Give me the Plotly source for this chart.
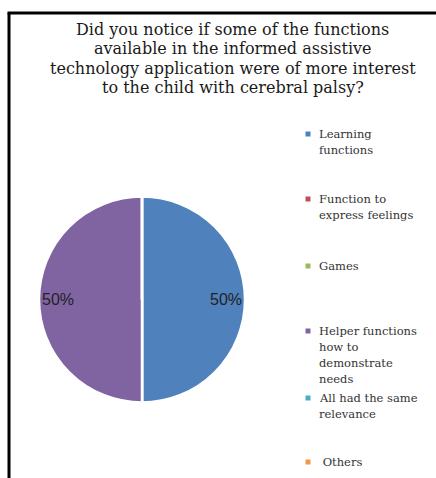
import math
import plotly.graph_objects as go

# ---- data ----
categories = [
    "Learning<br>functions",
    "Function to<br>express feelings",
    "Games",
    "Helper functions<br>how to<br>demonstrate<br>needs",
    "All had the same<br>relevance",
    " Others",
]
values = [50, 0, 0, 50, 0, 0]
colors = ["#4F81BD", "#C0504D", "#9BBB59", "#8064A2", "#4BACC6", "#F79646"]
title_lines = [
    "Did you notice if some of the functions",
    "available in the informed assistive",
    "technology application were of more interest",
    "to the child with cerebral palsy?",
]

# ---- layout geometry (pixels) ----
W, H = 436, 478
cx, cy, r = 142, 299.5, 103
legend_y = [134, 199, 266, 331, 398, 462]
legend_marker_x = 308
legend_text_x = 317
title_y = [29, 48, 68, 87]
title_x = 233

def px(x):
    return x / W

def py(y):
    return 1 - y / H

fig = go.Figure()
fig.add_trace(go.Pie(
    labels=[c.replace("<br>", " ") for c in categories],
    values=values,
    sort=False,
    direction="clockwise",
    rotation=0,
    marker=dict(colors=colors, line=dict(color="white", width=2.5)),
    textinfo="none",
    hoverinfo="label+percent",
    showlegend=False,
    domain=dict(x=[px(cx - r), px(cx + r)], y=[py(cy + r), py(cy - r)]),
))

annotations = []
# percentage labels computed from data
total = sum(values)
cum = 0
for v in values:
    if v > 0:
        mid = (cum + v / 2) / total * 2 * math.pi
        lx = cx + 0.82 * r * math.sin(mid)
        ly = cy - 0.82 * r * math.cos(mid)
        annotations.append(dict(
            x=px(lx), y=py(ly), xref="paper", yref="paper",
            text=f"{round(v / total * 100)}%", showarrow=False,
            font=dict(family="Liberation Sans", size=16, color="#222222"),
            xanchor="center", yanchor="middle",
        ))
    cum += v

# title
for t, y in zip(title_lines, title_y):
    annotations.append(dict(
        x=px(title_x), y=py(y), xref="paper", yref="paper", text=t,
        showarrow=False, xanchor="center", yanchor="middle",
        font=dict(family="DejaVu Serif", size=16, color="#1a1a1a"),
    ))

# legend (text + square markers)
shapes = []
for cat, col, y in zip(categories, colors, legend_y):
    lines = cat.split("<br>")
    for i, ln in enumerate(lines):
        annotations.append(dict(
            x=px(legend_text_x), y=py(y + i * 16), xref="paper", yref="paper",
            text=ln, showarrow=False, xanchor="left", yanchor="middle",
            font=dict(family="DejaVu Serif", size=11.5, color="#333333"),
        ))
    shapes.append(dict(
        type="rect", xref="paper", yref="paper",
        x0=px(legend_marker_x - 2.5), x1=px(legend_marker_x + 2.5),
        y0=py(y + 2.5), y1=py(y - 2.5),
        fillcolor=col, line=dict(width=0),
    ))

# frame (left and top edges)
shapes.append(dict(type="line", xref="paper", yref="paper",
                   x0=px(9), x1=px(9), y0=0, y1=py(13),
                   line=dict(color="black", width=3)))
shapes.append(dict(type="line", xref="paper", yref="paper",
                   x0=px(7.5), x1=1, y0=py(13), y1=py(13),
                   line=dict(color="black", width=3)))

fig.update_layout(
    width=W, height=H,
    margin=dict(l=0, r=0, t=0, b=0),
    paper_bgcolor="white", plot_bgcolor="white",
    annotations=annotations, shapes=shapes,
    showlegend=False,
)
fig.write_html("out.html")
